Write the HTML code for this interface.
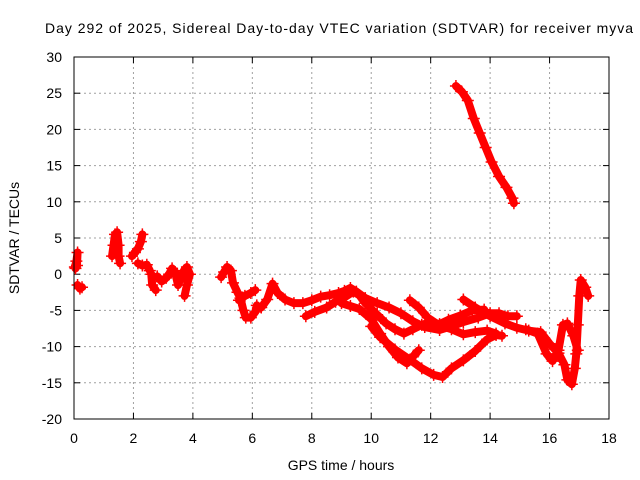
<!DOCTYPE html>
<html><head><meta charset="utf-8"><style>
html,body{margin:0;padding:0;background:#fff;}
svg{display:block;font-family:"Liberation Sans",sans-serif;}
</style></head><body>
<svg id="chart" width="640" height="480">
<text x="339" y="33" font-size="14" text-anchor="middle" textLength="588">Day 292 of 2025, Sidereal Day-to-day VTEC variation (SDTVAR) for receiver myva</text>
<g id="grid"></g>
<g id="ticks"></g>
<g id="marks"></g>
<rect x="74" y="57" width="535" height="362" fill="none" stroke="#000" stroke-width="1"/>
<text x="341" y="470" font-size="14" text-anchor="middle">GPS time / hours</text>
<text transform="translate(19,238) rotate(-90)" font-size="14" text-anchor="middle">SDTVAR / TECUs</text>
</svg>
<script>
const xTicks=[0,2,4,6,8,10,12,14,16,18];
const yTicks=[-20,-15,-10,-5,0,5,10,15,20,25,30];
const trackA=[[0.03,1],[0.08,1.8],[0.12,3],[0.1,1.2],[0.05,0.8]];
const trackA2=[[0.12,-1.5],[0.2,-2],[0.27,-1.8]];
const trackB=[[1.28,2.5],[1.33,4],[1.38,5.5],[1.45,5.8],[1.5,4],[1.5,2.5],[1.55,1.5]];
const trackC=[[1.95,2.5],[2.05,3],[2.15,3.5],[2.25,4.5],[2.3,5.5]];
const trackC2=[[2.15,1.5],[2.3,1.2],[2.45,1.3],[2.55,0.5]];
const trackD=[[2.6,0],[2.63,-1.5],[2.75,-2.2]];
const trackD2=[[2.8,-0.3],[2.95,-1],[3.1,-0.5],[3.2,0],[3.3,0.8],[3.4,0.3],[3.5,-1.5],[3.6,-0.5],[3.7,0.5],[3.8,1],[3.9,0],[3.8,-1.5],[3.72,-3]];
const trackE=[[4.95,-0.4],[5.05,0.3],[5.15,1],[5.28,0.5],[5.35,-1.2],[5.5,-2.5],[5.6,-3.3],[5.7,-5],[5.78,-6],[5.95,-6],[6.1,-5.2],[6.15,-4.3]];
const trackE2=[[5.55,-3.6],[5.75,-3],[5.95,-2.6],[6.1,-2.2]];
const trackF=[[6.3,-4.6],[6.5,-3.5],[6.68,-1.3],[6.85,-2.6],[7.1,-3.5],[7.4,-4],[7.7,-4],[8.0,-3.6],[8.3,-3.1],[8.6,-2.9],[8.9,-2.6],[9.1,-2.3],[9.3,-1.9],[9.5,-2.4],[9.8,-3.3],[10.2,-4],[10.6,-4.6],[11.0,-5.4],[11.4,-6.5],[11.8,-7.3],[12.3,-7.7],[12.7,-7.2],[13.1,-6.6],[13.6,-6],[14.0,-5.4],[14.3,-5.4],[14.6,-5.8],[14.9,-5.8]];
const trackG=[[7.8,-5.8],[8.1,-5.2],[8.5,-4.6],[8.8,-3.8],[9.1,-3.2],[9.4,-2.4],[9.6,-2.9],[9.8,-4],[10.2,-5.6],[10.5,-6.8],[10.8,-7.6],[11.1,-8.2],[11.4,-7.6],[11.7,-7],[12.0,-6.6],[12.3,-6.9],[12.6,-6.3],[13.0,-5.7],[13.4,-5],[13.8,-4.9]];
const trackH=[[9.0,-4],[9.3,-4.4],[9.6,-4.8],[10.0,-6.2],[10.3,-8.2],[10.6,-10],[10.9,-11.5],[11.2,-12.3],[11.4,-11.4],[11.6,-10.5]];
const trackI=[[10.0,-7.2],[10.3,-8.7],[10.8,-10.4],[11.3,-11.8],[11.7,-13],[12.1,-13.9],[12.4,-14.2],[12.7,-13],[13.1,-11.9],[13.5,-10.6],[13.9,-9],[14.2,-8.4],[14.4,-8.5]];
const trackJ=[[11.3,-3.6],[11.6,-4.6],[11.9,-6],[12.3,-7.1],[12.7,-7.6],[13.1,-8.3],[13.5,-8],[13.9,-7.8],[14.2,-8.2]];
const trackK=[[13.1,-3.5],[13.5,-4.6],[14.0,-5.8],[14.5,-6.8],[14.9,-7.4],[15.3,-7.8],[15.7,-8],[16.0,-9.6],[16.3,-10.9],[16.5,-12.5],[16.6,-14.6],[16.75,-15.2],[16.85,-13],[16.9,-11],[16.95,-7],[17.0,-3],[17.05,-0.8],[17.2,-1.8],[17.3,-3]];
const trackL=[[15.2,-7.6],[15.6,-8.2],[15.9,-11],[16.1,-12],[16.3,-10.5],[16.45,-7],[16.6,-6.8],[16.8,-8.5],[16.95,-10.5]];
const trackM=[[12.85,26],[13.05,25.2],[13.25,24],[13.45,21.5],[13.65,19.5],[13.85,17.5],[14.05,15.5],[14.3,13.5],[14.55,12],[14.75,10.5],[14.8,9.8]];
const tracks=[trackA,trackA2,trackB,trackC,trackC2,trackD,trackD2,trackE,trackE2,trackF,trackG,trackH,trackI,trackJ,trackK,trackL,trackM];
const NS='http://www.w3.org/2000/svg';
const X0=74,X1=609,Y0=419,Y1=57;
function xs(v){return X0+(v-0)/(18-0)*(X1-X0);}
function ys(v){return Y0-(v+20)/(50)*(Y0-Y1);}
function mk(tag,attrs,parent){const e=document.createElementNS(NS,tag);for(const k in attrs)e.setAttribute(k,attrs[k]);parent.appendChild(e);return e;}
const grid=document.getElementById('grid'),ticks=document.getElementById('ticks'),marks=document.getElementById('marks');
xTicks.forEach(t=>{const x=xs(t);
 if(t>0&&t<18){const g=mk('line',{x1:x,x2:x,y1:Y1,y2:Y0,stroke:'#a0a0a0','stroke-dasharray':'2,3'},grid);
 
 }
 mk('line',{x1:x,x2:x,y1:Y0,y2:Y0-6,stroke:'#000'},ticks);mk('line',{x1:x,x2:x,y1:Y1,y2:Y1+6,stroke:'#000'},ticks);
 const l=mk('text',{x:x,y:443,'font-size':14,'text-anchor':'middle'},ticks);l.textContent=t;
 
 });
yTicks.forEach(t=>{const y=ys(t);
 if(t>-20&&t<30){const g=mk('line',{x1:X0,x2:X1,y1:y,y2:y,stroke:'#a0a0a0','stroke-dasharray':'2,3'},grid);
 
 }
 mk('line',{x1:X0,x2:X0+6,y1:y,y2:y,stroke:'#000'},ticks);mk('line',{x1:X1,x2:X1-6,y1:y,y2:y,stroke:'#000'},ticks);
 const l=mk('text',{x:62,y:y+5,'font-size':14,'text-anchor':'end'},ticks);l.textContent=t;
 
 });
tracks.forEach(tr=>{
 const pl=mk('polyline',{points:tr.map(p=>xs(p[0])+','+ys(p[1])).join(' '),fill:'none',stroke:'#ff0000','stroke-width':8,'stroke-linejoin':'round','stroke-linecap':'round'},marks);
 
 
 tr.forEach(p=>{const x=xs(p[0]),y=ys(p[1]);
  const m=mk('path',{d:`M${x-6},${y}H${x+6}M${x},${y-6}V${y+6}`,stroke:'#ff0000','stroke-width':1.5},marks);
  
  });
});
</script>
</body></html>
